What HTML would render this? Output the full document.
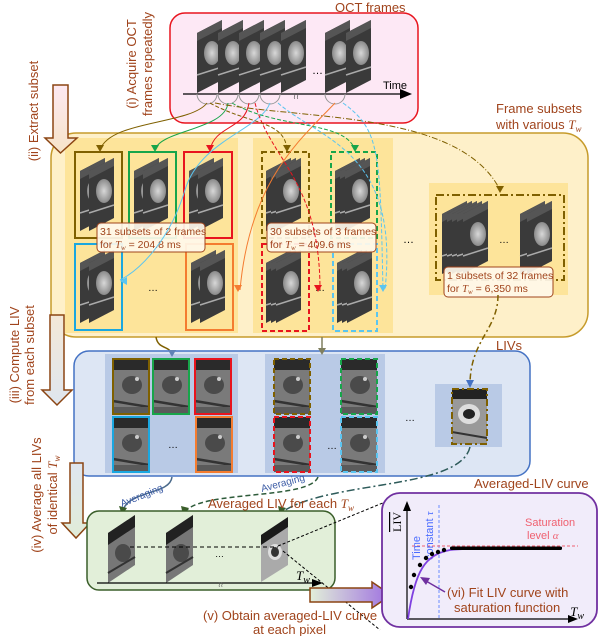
<!DOCTYPE html>
<html><head><meta charset="utf-8"><style>
html,body{margin:0;padding:0;background:#fff;}
svg{display:block;font-family:"Liberation Sans",sans-serif;}
.t{fill:#a0441c;font-size:13px;}
</style></head><body>
<svg width="614" height="636" viewBox="0 0 614 636" xmlns="http://www.w3.org/2000/svg">
<defs>
<linearGradient id="gA" x1="0" y1="0" x2="0" y2="1"><stop offset="0" stop-color="#fde9f2"/><stop offset="1" stop-color="#f6e3c8"/></linearGradient>
<linearGradient id="gB" x1="0" y1="0" x2="0" y2="1"><stop offset="0" stop-color="#f3e8d8"/><stop offset="1" stop-color="#dfe6ee"/></linearGradient>
<linearGradient id="gC" x1="0" y1="0" x2="0" y2="1"><stop offset="0" stop-color="#dfe6f0"/><stop offset="1" stop-color="#e0ecd8"/></linearGradient>
<linearGradient id="gD" x1="0" y1="0" x2="1" y2="0"><stop offset="0" stop-color="#e2efd9"/><stop offset="1" stop-color="#9e70e0"/></linearGradient>
<radialGradient id="blob"><stop offset="0" stop-color="#d8d8d8"/><stop offset="1" stop-color="#8a8a8a"/></radialGradient>
<g id="fr"><polygon points="0,13 25,0 25,60 0,73" fill="#3a3a3a"/><polygon points="0,13 25,0 25,8 0,21" fill="#555"/><ellipse cx="15" cy="33" rx="8" ry="12" fill="url(#blob)"/><line x1="0" y1="55" x2="25" y2="47" stroke="#aaa" stroke-width="1.5"/></g>
<g id="st2"><use href="#fr" x="0"/><use href="#fr" x="9"/></g>
<g id="st3"><use href="#fr" x="0"/><use href="#fr" x="5"/><use href="#fr" x="10"/></g>
<g id="liv"><rect width="36" height="55" fill="#7a7a7a"/><rect width="36" height="11" fill="#2a2a2a"/><ellipse cx="19" cy="26" rx="10" ry="9" fill="#4a4a4a"/><circle cx="24" cy="20" r="2" fill="#ccc"/><line x1="0" y1="42" x2="36" y2="48" stroke="#333" stroke-width="2.5"/><rect y="48" width="36" height="7" fill="#5a5a5a"/></g>
<g id="gf"><polygon points="0,18 27,0 27,50 0,68" fill="#777"/><polygon points="0,18 27,0 27,12 0,30" fill="#222"/><ellipse cx="15" cy="38" rx="8" ry="9" fill="#4a4a4a"/><line x1="0" y1="58" x2="27" y2="42" stroke="#333" stroke-width="2"/></g>
</defs>

<rect x="170" y="13" width="248" height="110" rx="15" fill="#fde8f5" stroke="#e8141e" stroke-width="1.5"/>
<text class="t" x="335" y="12">OCT frames</text>
<g><use href="#fr" x="197" y="20"/><use href="#fr" x="218" y="20"/><use href="#fr" x="239" y="20"/><use href="#fr" x="260" y="20"/><use href="#fr" x="281" y="20"/><use href="#fr" x="325" y="20"/><use href="#fr" x="346" y="20"/></g>
<text x="312" y="74" font-size="11">…</text>
<line x1="183" y1="94" x2="402" y2="94" stroke="#000" stroke-width="1.2"/>
<polygon points="412,94 400,89 400,99" fill="#000"/>
<text x="383" y="89" font-size="11">Time</text>
<text x="293" y="99" font-size="8" fill="#555">≀≀</text>
<text class="t" transform="translate(136,64) rotate(-90)" text-anchor="middle">(i) Acquire OCT</text>
<text class="t" transform="translate(152,64) rotate(-90)" text-anchor="middle">frames repeatedly</text>

<rect x="51" y="133" width="537" height="204" rx="25" fill="#fef0c9" stroke="#c69b2b" stroke-width="1.5"/>
<text class="t" x="496" y="113">Frame subsets</text>
<text class="t" x="496" y="129">with various <tspan font-family="Liberation Serif" font-style="italic">T</tspan><tspan font-size="9" font-family="Liberation Serif" font-style="italic" dy="3">w</tspan></text>
<rect x="65" y="138" width="173" height="195" fill="#fde49a"/>
<rect x="253" y="138" width="140" height="195" fill="#fde49a"/>
<rect x="429" y="183" width="139" height="112" fill="#fde49a"/>
<rect x="75" y="152" width="47" height="86" fill="none" stroke="#7f6000" stroke-width="2"/>
<rect x="129" y="152" width="47" height="86" fill="none" stroke="#17a54a" stroke-width="2"/>
<rect x="184" y="152" width="48" height="86" fill="none" stroke="#e8141e" stroke-width="2"/>
<rect x="75" y="244" width="47" height="86" fill="none" stroke="#1aa7e0" stroke-width="2"/>
<rect x="186" y="244" width="47" height="86" fill="none" stroke="#f47c30" stroke-width="2"/>
<use href="#st2" x="80" y="158"/><use href="#st2" x="134" y="158"/><use href="#st2" x="189" y="158"/>
<use href="#st2" x="80" y="250"/><use href="#st2" x="191" y="250"/>
<text x="148" y="291" font-size="10">…</text>
<rect x="262" y="152" width="47" height="86" fill="none" stroke="#7f6000" stroke-width="2" stroke-dasharray="5,3"/>
<rect x="331" y="152" width="46" height="86" fill="none" stroke="#17a54a" stroke-width="2" stroke-dasharray="5,3"/>
<rect x="262" y="244" width="47" height="87" fill="none" stroke="#e8141e" stroke-width="2" stroke-dasharray="5,3"/>
<rect x="333" y="244" width="44" height="87" fill="none" stroke="#5bc5f0" stroke-width="2" stroke-dasharray="5,3"/>
<use href="#st3" x="266" y="158"/><use href="#st3" x="335" y="158"/>
<use href="#st3" x="266" y="250"/><use href="#st3" x="337" y="250"/>
<text x="315" y="291" font-size="10">…</text>
<text x="403" y="243" font-size="11">…</text>
<rect x="436" y="195" width="128" height="85" fill="none" stroke="#7f6000" stroke-width="2" stroke-dasharray="8,3,2,3"/>
<use href="#fr" x="442" y="201"/><use href="#fr" x="447" y="201"/><use href="#fr" x="452" y="201"/><use href="#fr" x="457" y="201"/><use href="#fr" x="463" y="201"/>
<use href="#fr" x="520" y="201"/><use href="#fr" x="527" y="201"/>
<text x="499" y="243" font-size="10">…</text>
<g font-size="10.5" fill="#a0441c">
<rect x="97" y="223" width="108" height="29" rx="4" fill="#fff8ec" fill-opacity="0.92" stroke="#a0441c"/>
<text x="100" y="235">31 subsets of 2 frames</text>
<text x="100" y="248">for <tspan font-family="Liberation Serif" font-style="italic">T<tspan font-size="7" dy="2">w</tspan></tspan><tspan dy="-2"> = 204.8 ms</tspan></text>
<rect x="267" y="223" width="109" height="29" rx="4" fill="#fff8ec" fill-opacity="0.92" stroke="#a0441c"/>
<text x="270" y="235">30 subsets of 3 frames</text>
<text x="270" y="248">for <tspan font-family="Liberation Serif" font-style="italic">T<tspan font-size="7" dy="2">w</tspan></tspan><tspan dy="-2"> = 409.6 ms</tspan></text>
<rect x="444" y="267" width="109" height="30" rx="4" fill="#fff8ec" fill-opacity="0.92" stroke="#a0441c"/>
<text x="447" y="279">1 subsets of 32 frames</text>
<text x="447" y="292">for <tspan font-family="Liberation Serif" font-style="italic">T<tspan font-size="7" dy="2">w</tspan></tspan><tspan dy="-2"> = 6,350 ms</tspan></text>
</g>
<g fill="none" stroke-width="1">
<path d="M197,94 a10,10 0 0 0 20,0 M218,94 a10,10 0 0 0 20,0 M239,94 a10,10 0 0 0 20,0 M260,94 a10,10 0 0 0 20,0 M325,94 a10,10 0 0 0 20,0" stroke="#999"/>
<path d="M207,103 C190,125 110,120 100,150" stroke="#7f6000"/>
<path d="M228,103 C225,130 160,130 155,150" stroke="#17a54a"/>
<path d="M249,103 C245,130 215,125 210,150" stroke="#e8141e"/>
<path d="M270,103 C260,130 200,140 185,190 C170,240 140,270 120,280" stroke="#5bc5f0"/>
<path d="M335,103 C300,140 250,180 240,290" stroke="#f47c30"/>
<path d="M210,103 C250,125 285,120 287,150" stroke="#7f6000" stroke-dasharray="4,2"/>
<path d="M232,103 C280,130 345,120 355,150" stroke="#17a54a" stroke-dasharray="4,2"/>
<path d="M255,103 C270,160 320,180 320,290" stroke="#e8141e" stroke-dasharray="4,2"/>
<path d="M278,103 C320,140 400,150 385,290" stroke="#5bc5f0" stroke-dasharray="4,2"/>
<path d="M215,103 C300,120 460,110 500,190" stroke="#7f6000" stroke-dasharray="6,2,1,2"/>
<path d="M343,103 C380,130 380,150 383,290" stroke="#5bc5f0" stroke-dasharray="4,2"/>
</g>
<g>
<polygon points="100,152 96,145 104,145" fill="#7f6000"/>
<polygon points="155,152 151,145 159,145" fill="#17a54a"/>
<polygon points="210,152 206,145 214,145" fill="#e8141e"/>
<polygon points="120,281 127,277 127,285" fill="#5bc5f0"/>
<polygon points="238,292 234,285 242,285" fill="#f47c30"/>
<polygon points="287,152 283,145 291,145" fill="#7f6000"/>
<polygon points="355,152 351,145 359,145" fill="#17a54a"/>
<polygon points="318,292 314,285 322,285" fill="#e8141e"/>
<polygon points="383,292 379,285 387,285" fill="#5bc5f0"/>
<polygon points="500,193 496,186 504,186" fill="#7f6000"/>
</g>
<polygon points="53,85 68,85 68,138 77,138 60.5,153 45,138 53,138" fill="url(#gA)" stroke="#8b4513" stroke-width="1.5"/>
<text class="t" transform="translate(38,111) rotate(-90)" text-anchor="middle">(ii) Extract subset</text>
<polygon points="50,315 64,315 64,390 72,390 57,405 42,390 50,390" fill="url(#gB)" stroke="#8b4513" stroke-width="1.5"/>
<text class="t" transform="translate(19,355) rotate(-90)" text-anchor="middle">(iii) Compute LIV</text>
<text class="t" transform="translate(34,355) rotate(-90)" text-anchor="middle">from each subset</text>

<rect x="74" y="351" width="456" height="125" rx="15" fill="#dde6f4" stroke="#4472c4" stroke-width="1.5"/>
<text class="t" x="496" y="350">LIVs</text>
<rect x="105" y="354" width="133" height="119" fill="#b9cae6"/>
<rect x="265" y="354" width="120" height="119" fill="#b9cae6"/>
<rect x="435" y="384" width="67" height="63" fill="#b9cae6"/>
<use href="#liv" x="113" y="359"/><use href="#liv" x="153" y="359"/><use href="#liv" x="195" y="359"/>
<use href="#liv" x="113" y="417"/><use href="#liv" x="196" y="417"/>
<use href="#liv" x="274" y="359"/><use href="#liv" x="341" y="359"/>
<use href="#liv" x="274" y="417"/><use href="#liv" x="341" y="417"/>
<g fill="none" stroke-width="2">
<rect x="113" y="359" width="36" height="55" stroke="#7f6000"/>
<rect x="153" y="359" width="36" height="55" stroke="#17a54a"/>
<rect x="195" y="359" width="36" height="55" stroke="#e8141e"/>
<rect x="113" y="417" width="36" height="55" stroke="#1aa7e0"/>
<rect x="196" y="417" width="36" height="55" stroke="#f47c30"/>
<rect x="274" y="359" width="36" height="55" stroke="#7f6000" stroke-dasharray="5,3"/>
<rect x="341" y="359" width="36" height="55" stroke="#17a54a" stroke-dasharray="5,3"/>
<rect x="274" y="417" width="36" height="55" stroke="#e8141e" stroke-dasharray="5,3"/>
<rect x="341" y="417" width="36" height="55" stroke="#5bc5f0" stroke-dasharray="5,3"/>
</g>
<rect x="452" y="389" width="35" height="55" fill="#999"/><rect x="452" y="389" width="35" height="10" fill="#222"/><ellipse cx="469" cy="414" rx="11" ry="10" fill="#ddd"/><ellipse cx="469" cy="414" rx="6" ry="5" fill="#222"/><line x1="452" y1="432" x2="487" y2="438" stroke="#333" stroke-width="2"/>
<rect x="452" y="389" width="35" height="55" fill="none" stroke="#7f6000" stroke-width="2" stroke-dasharray="7,3,2,3"/>
<text x="168" y="448" font-size="10">…</text><text x="327" y="449" font-size="10">…</text><text x="405" y="421" font-size="10">…</text>
<g fill="none" stroke-width="1.5">
<path d="M156,337 C158,350 170,345 172,355" stroke="#7f6000"/>
<path d="M322,337 L322,352" stroke="#7f7f5f"/>
<path d="M498,295 C498,330 470,340 470,385" stroke="#7f6000" stroke-dasharray="6,3,2,3"/>
<path d="M172,477 C170,495 130,490 123,510" stroke="#4a6a8a"/>
<path d="M318,477 C310,500 200,490 185,512" stroke="#2e5b3a" stroke-dasharray="5,3"/>
<path d="M470,447 C460,490 330,480 282,512" stroke="#2e5b5a" stroke-dasharray="8,3,2,3"/>
</g>
<polygon points="172,357 168,350 176,350" fill="#6082b6"/>
<polygon points="322,355 318,348 326,348" fill="#7f7f5f"/>
<polygon points="470,388 466,380 474,380" fill="#4472c4"/>
<polygon points="122,515 119,506 127,508" fill="#3a5e2a"/>
<polygon points="183,515 181,506 189,508" fill="#3a5e2a"/>
<polygon points="280,515 278,506 286,508" fill="#3a5e2a"/>
<text transform="translate(122,507) rotate(-22)" font-size="10" fill="#3b5ba5">Averaging</text>
<text transform="translate(262,492) rotate(-15)" font-size="10" fill="#3b5ba5">Averaging</text>

<polygon points="70,463 83,463 83,523 90,523 76,538 62,523 70,523" fill="url(#gC)" stroke="#8b4513" stroke-width="1.5"/>
<text class="t" transform="translate(41,495) rotate(-90)" text-anchor="middle">(iv) Average all LIVs</text>
<text class="t" transform="translate(57,495) rotate(-90)" text-anchor="middle">of identical <tspan font-family="Liberation Serif" font-style="italic">T<tspan font-size="9" dy="3">w</tspan></tspan></text>

<rect x="87" y="511" width="248" height="79" rx="12" fill="#e2efd9" stroke="#3a5e2a" stroke-width="1.5"/>
<text class="t" x="208" y="508">Averaged LIV for each <tspan font-family="Liberation Serif" font-style="italic">T<tspan font-size="9" dy="3">w</tspan></tspan></text>
<use href="#gf" x="108" y="515"/><use href="#gf" x="166" y="515"/>
<polygon points="261,535 288,517 288,565 261,582" fill="#aaa"/><polygon points="261,535 288,517 288,527 261,545" fill="#1a1a1a"/><ellipse cx="275" cy="552" rx="7" ry="8" fill="#ddd"/><ellipse cx="275" cy="552" rx="4" ry="5" fill="#333"/>
<line x1="130" y1="547" x2="278" y2="547" stroke="#000" stroke-dasharray="4,3"/>
<text x="215" y="557" font-size="9">…</text>
<line x1="97" y1="583" x2="315" y2="583" stroke="#000" stroke-width="1.2"/>
<polygon points="323,583 312,579 312,587" fill="#000"/>
<text x="218" y="587" font-size="7" fill="#555">≀≀</text>
<text x="296" y="580" font-family="Liberation Serif" font-style="italic" font-size="13">T<tspan font-size="10" dy="3">w</tspan></text>
<line x1="278" y1="546" x2="390" y2="500" stroke="#000" stroke-dasharray="3,2"/>
<line x1="283" y1="551" x2="380" y2="630" stroke="#000" stroke-dasharray="3,2"/>
<polygon points="310,588 372,588 372,582 391,595 372,608 372,602 310,602" fill="url(#gD)" stroke="#8b4513" stroke-width="1.5"/>
<text class="t" x="203" y="620">(v) Obtain averaged-LIV curve</text>
<text class="t" x="253" y="634">at each pixel</text>

<rect x="382" y="493" width="215" height="134" rx="18" fill="#f1ecfa" stroke="#7030a0" stroke-width="1.8"/>
<text class="t" x="474" y="488">Averaged-LIV curve</text>
<line x1="407" y1="619" x2="407" y2="508" stroke="#000" stroke-width="1.2"/>
<polygon points="407,501 403,511 411,511" fill="#000"/>
<line x1="407" y1="619" x2="570" y2="619" stroke="#000" stroke-width="1.2"/>
<polygon points="578,619 568,615 568,623" fill="#000"/>
<text x="584" y="616" font-family="Liberation Serif" font-style="italic" font-size="13" text-anchor="end">T<tspan font-size="10" dy="3">w</tspan></text>
<text transform="translate(401,532) rotate(-90)" font-family="Liberation Serif" font-size="12" text-decoration="overline">LIV</text>
<line x1="439" y1="505" x2="439" y2="619" stroke="#6b8cff" stroke-dasharray="3,2"/>
<line x1="412" y1="546" x2="578" y2="546" stroke="#f06070" stroke-dasharray="3,2"/>
<text transform="translate(420,560) rotate(-90)" font-size="11" fill="#4a6cff">Time</text>
<text transform="translate(433,560) rotate(-90)" font-size="11" fill="#4a6cff">constant <tspan font-family="Liberation Serif" font-style="italic">τ</tspan></text>
<text x="525" y="526" font-size="11" fill="#f06070">Saturation</text>
<text x="527" y="539" font-size="11" fill="#f06070">level <tspan font-family="Liberation Serif" font-style="italic">α</tspan></text>
<path d="M408,619 C415,570 425,555 450,550 C470,548 500,548 562,548" fill="none" stroke="#7f40e0" stroke-width="1.8"/>
<g fill="#000">
<circle cx="411" cy="587" r="2.2"/><circle cx="414" cy="575" r="2.2"/><circle cx="420" cy="565" r="2.2"/><circle cx="426" cy="558" r="2.2"/><circle cx="432" cy="554" r="2.2"/><circle cx="438" cy="552" r="2.2"/><circle cx="444" cy="550" r="2.2"/>
<rect x="450" y="546.5" width="112" height="3.5" rx="1.5"/>
</g>
<line x1="445" y1="592" x2="426" y2="581" stroke="#7030a0" stroke-width="1.5"/>
<polygon points="420,577 430,578 426,585" fill="#7030a0"/>
<text class="t" x="447" y="597">(vi) Fit LIV curve with</text>
<text class="t" x="454" y="612">saturation function</text>
</svg>
</body></html>
